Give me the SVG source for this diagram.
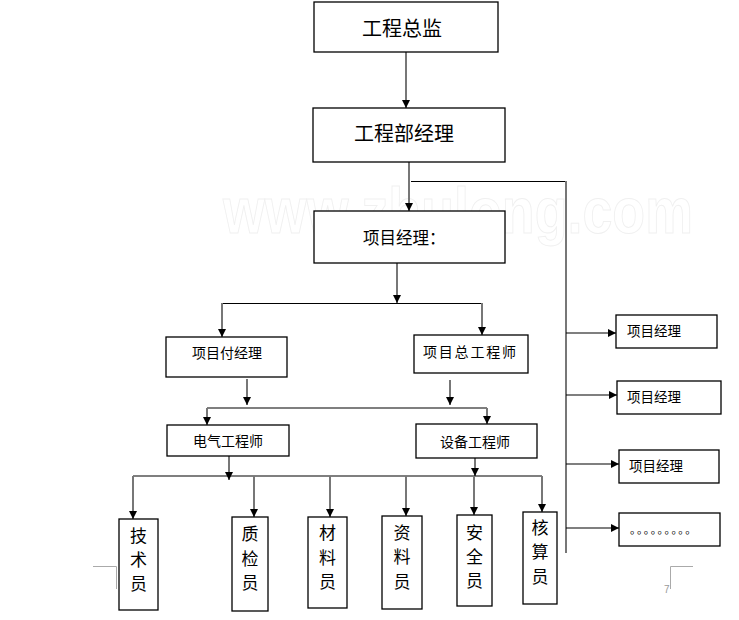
<svg xmlns="http://www.w3.org/2000/svg" width="739" height="620" viewBox="0 0 739 620">
<defs>
<marker id="ah" viewBox="0 0 8 8" markerWidth="8" markerHeight="8" refX="8" refY="4" orient="auto" markerUnits="userSpaceOnUse">
<path d="M0,0 L8,4 L0,8 z" fill="#000"/>
</marker>
<style>
.box{fill:#fff;stroke:#000;stroke-width:1.3}
.t{font-family:"Noto Sans CJK SC","Noto Sans",sans-serif;fill:#000}
.g{fill:none;stroke:#777;stroke-width:2}
.k{fill:none;stroke:#000;stroke-width:1.2}
.pm{fill:none;stroke:#aaa;stroke-width:1}
.wm{font-family:"Liberation Sans",Arial,sans-serif;font-weight:bold;font-size:64px;fill:#fff;stroke:#f0f0f0;stroke-width:1}
</style>
</defs>
<rect width="739" height="620" fill="#fff"/>
<text class="wm" x="223" y="233" textLength="470" lengthAdjust="spacingAndGlyphs">www.zhulong.com</text>
<g id="connectors">
<path class="g" d="M406,52 V108" marker-end="url(#ah)"/>
<path class="g" d="M409,162 V211" marker-end="url(#ah)"/>
<path class="k" d="M411,181.5 H566"/>
<path class="g" d="M566,181 V553"/>
<path class="k" d="M566,333 H616" marker-end="url(#ah)"/>
<path class="k" d="M566,395 H617" marker-end="url(#ah)"/>
<path class="k" d="M566,464 H619" marker-end="url(#ah)"/>
<path class="k" d="M566,528 H619" marker-end="url(#ah)"/>
<path class="g" d="M397,263 V303" marker-end="url(#ah)"/>
<path class="k" d="M222,303.5 H482"/>
<path class="g" d="M222,303 V337" marker-end="url(#ah)"/>
<path class="g" d="M482,303 V335" marker-end="url(#ah)"/>
<path class="g" d="M247,379 V405" marker-end="url(#ah)"/>
<path class="g" d="M450,380 V405" marker-end="url(#ah)"/>
<path class="k" d="M207,408 H487"/>
<path class="g" d="M207,408 V425" marker-end="url(#ah)"/>
<path class="g" d="M487,408 V424" marker-end="url(#ah)"/>
<path class="g" d="M229,456 V480" marker-end="url(#ah)"/>
<path class="g" d="M475,458 V476" marker-end="url(#ah)"/>
<path class="k" d="M133,476 H542"/>
<path class="g" d="M133,476 V519" marker-end="url(#ah)"/>
<path class="g" d="M254,476 V517" marker-end="url(#ah)"/>
<path class="g" d="M330,476 V517" marker-end="url(#ah)"/>
<path class="g" d="M406,476 V516" marker-end="url(#ah)"/>
<path class="g" d="M474,476 V515" marker-end="url(#ah)"/>
<path class="g" d="M542,476 V512" marker-end="url(#ah)"/>
</g>
<g id="n-zongjian"><rect class="box" x="314" y="2" width="184" height="50"/><text class="t" x="402" y="36" font-size="20" text-anchor="middle">工程总监</text></g>
<g id="n-bujingli"><rect class="box" x="313" y="108" width="192" height="54"/><text class="t" x="404" y="141" font-size="20" text-anchor="middle">工程部经理</text></g>
<g id="n-xmjl"><rect class="box" x="314" y="211" width="191" height="52"/><text class="t" x="363" y="244" font-size="16.5">项目经理：</text></g>
<g id="n-fujingli"><rect class="box" x="166" y="337" width="121" height="40"/><text class="t" x="192" y="358" font-size="14">项目付经理</text></g>
<g id="n-zonggong"><rect class="box" x="414" y="335" width="114" height="38"/><text class="t" x="423" y="357" font-size="14" textLength="93">项目总工程师</text></g>
<g id="n-dianqi"><rect class="box" x="167" y="425" width="122" height="31"/><text class="t" x="193" y="446" font-size="14">电气工程师</text></g>
<g id="n-shebei"><rect class="box" x="416" y="424" width="121" height="34"/><text class="t" x="440" y="447" font-size="14">设备工程师</text></g>
<g id="n-jishu"><rect class="box" x="119" y="519" width="39" height="91"/><text class="t" font-size="17" text-anchor="middle"><tspan x="138.5" y="542">技</tspan><tspan x="138.5" y="566">术</tspan><tspan x="138.5" y="590">员</tspan></text></g>
<g id="n-zhijian"><rect class="box" x="232" y="517" width="36" height="94"/><text class="t" font-size="17" text-anchor="middle"><tspan x="250" y="540">质</tspan><tspan x="250" y="565">检</tspan><tspan x="250" y="589">员</tspan></text></g>
<g id="n-cailiao"><rect class="box" x="308" y="517" width="39" height="91"/><text class="t" font-size="17" text-anchor="middle"><tspan x="327.5" y="539">材</tspan><tspan x="327.5" y="564">料</tspan><tspan x="327.5" y="588">员</tspan></text></g>
<g id="n-ziliao"><rect class="box" x="382" y="516" width="40" height="93"/><text class="t" font-size="17" text-anchor="middle"><tspan x="402" y="539">资</tspan><tspan x="402" y="563">料</tspan><tspan x="402" y="588">员</tspan></text></g>
<g id="n-anquan"><rect class="box" x="457" y="515" width="35" height="91"/><text class="t" font-size="17" text-anchor="middle"><tspan x="474.5" y="539">安</tspan><tspan x="474.5" y="563">全</tspan><tspan x="474.5" y="587">员</tspan></text></g>
<g id="n-hesuan"><rect class="box" x="523" y="512" width="34" height="92"/><text class="t" font-size="17" text-anchor="middle"><tspan x="540" y="534">核</tspan><tspan x="540" y="558">算</tspan><tspan x="540" y="583">员</tspan></text></g>
<g id="n-r1"><rect class="box" x="616" y="315" width="101" height="33"/><text class="t" x="627" y="336" font-size="13.5">项目经理</text></g>
<g id="n-r2"><rect class="box" x="617" y="381" width="104" height="33"/><text class="t" x="627" y="402" font-size="13.5">项目经理</text></g>
<g id="n-r3"><rect class="box" x="619" y="450" width="100" height="33"/><text class="t" x="629" y="471" font-size="13.5">项目经理</text></g>
<g id="n-r4"><rect class="box" x="619" y="513" width="101" height="33"/><text class="t" x="630 636.9 643.8 650.7 657.6 664.5 671.4 678.3 685.2" y="534" font-size="11">。。。。。。。。。</text></g>
<g id="page-marks">
<path class="pm" d="M93,566.5 H116.5 V589"/>
<path class="pm" d="M670.5,589 V566.5 H693"/>
<text x="664" y="593" font-family="Liberation Sans,sans-serif" font-size="10" fill="#999">7</text>
</g>
</svg>
